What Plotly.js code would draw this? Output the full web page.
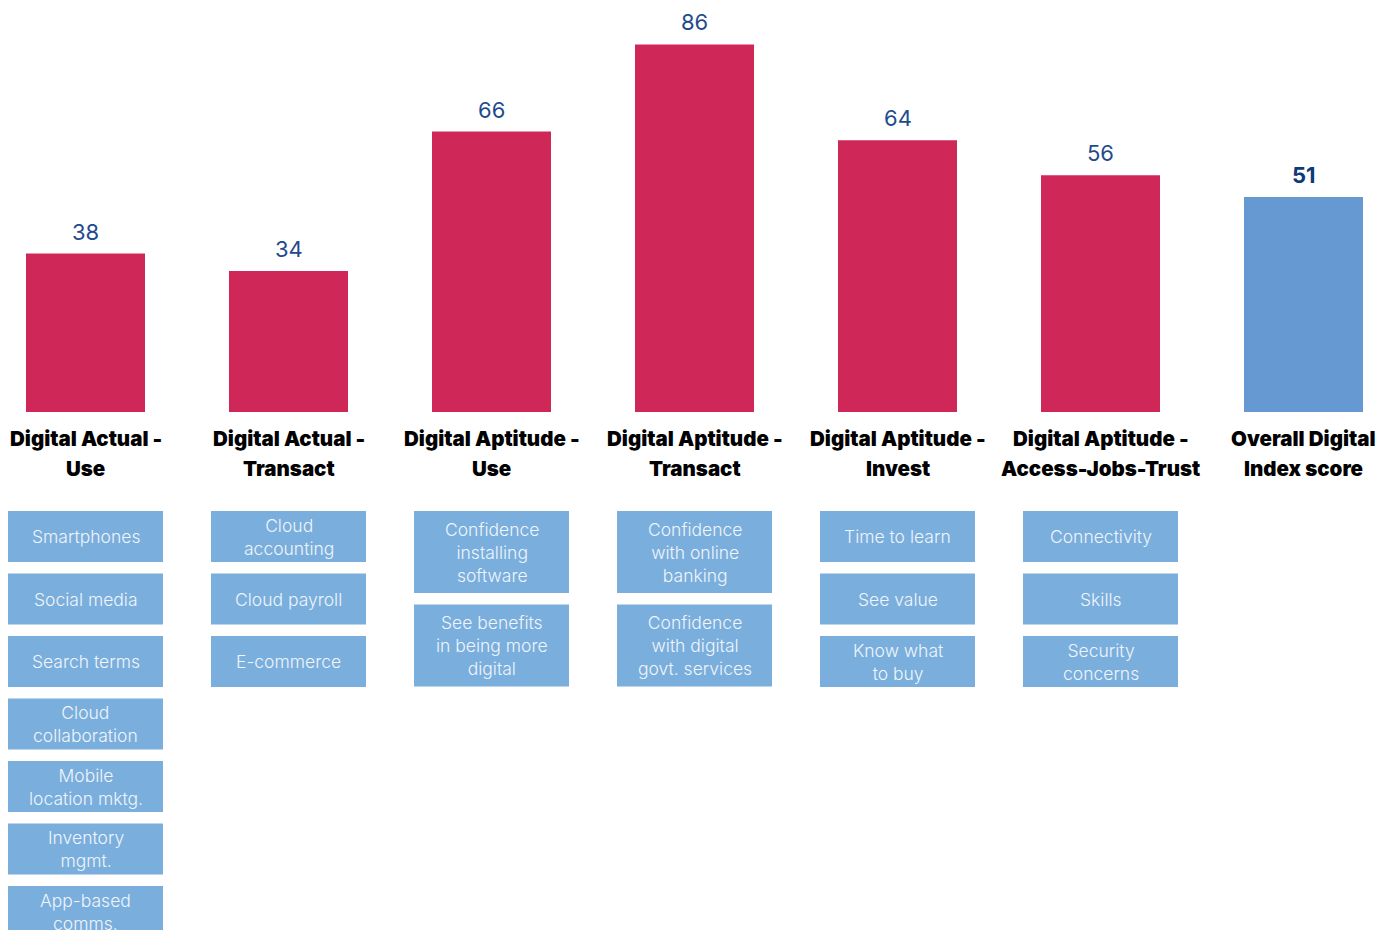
<!DOCTYPE html>
<html><head><meta charset="utf-8">
<script src="https://cdn.plot.ly/plotly-3.0.1.min.js"></script>
<style>html,body{margin:0;padding:0;background:#fff}#chart{width:1394px;height:930px}</style>
</head><body><div id="chart"></div>
<script>
// ---- data ----
const categories = [
  'Digital Actual -<br>Use',
  'Digital Actual -<br>Transact',
  'Digital Aptitude -<br>Use',
  'Digital Aptitude -<br>Transact',
  'Digital Aptitude -<br>Invest',
  'Digital Aptitude -<br>Access-Jobs-Trust',
  'Overall Digital<br>Index score'
];
const scores = [38, 34, 66, 86, 64, 56, 51];
const subItems = [
  ['Smartphones', 'Social media', 'Search terms', 'Cloud<br>collaboration', 'Mobile<br>location mktg.', 'Inventory<br>mgmt.', 'App-based<br>comms.'],
  ['Cloud<br>accounting', 'Cloud payroll', 'E-commerce'],
  ['Confidence<br>installing<br>software', 'See benefits<br>in being more<br>digital'],
  ['Confidence<br>with online<br>banking', 'Confidence<br>with digital<br>govt. services'],
  ['Time to learn', 'See value', 'Know what<br>to buy'],
  ['Connectivity', 'Skills', 'Security<br>concerns'],
  []
];
const overallIndex = 6;

// ---- styles ----
const W = 1394, H = 930;
const margin = {l: 0, r: 0, t: 0, b: 518};
const plotH = H - margin.t - margin.b;
const pxPerCat = 203;
const firstCenter = 85.5;
const xRange = [-firstCenter / pxPerCat, (W - firstCenter) / pxPerCat];
const pxPerUnit = 4.356;
const zeroPx = 419.1;
const yRange = [(zeroPx - plotH) / pxPerUnit, zeroPx / pxPerUnit];
const red = '#cf2858', blue = '#6699d1', boxColor = '#7aaedc';
const valueColor = '#1f4b8c', valueBoldColor = '#0f3a78';
const fontFamily = 'Inter, "Noto Sans", Arial, sans-serif';

const barColors = categories.map((c, i) => i === overallIndex ? blue : red);

const annotations = [];
const shapes = [];
const toPaper = py => (H - margin.b - py) / plotH;

scores.forEach((v, i) => {
  const bold = i === overallIndex;
  annotations.push({
    x: i, y: v, xref: 'x', yref: 'y',
    text: bold ? '<b>' + v + '</b>' : String(v),
    showarrow: false, xanchor: 'center', yanchor: 'bottom', yshift: 7,
    font: {family: fontFamily, size: 22, color: bold ? valueBoldColor : valueColor}
  });
});

// category labels (two lines each)
const labelLineY = [438, 468];
categories.forEach((c, i) => {
  c.split('<br>').forEach((line, k) => {
    annotations.push({
      x: i, y: toPaper(labelLineY[k]), xref: 'x', yref: 'paper',
      text: line, showarrow: false, xanchor: 'center', yanchor: 'middle',
      font: {family: fontFamily, size: 20.5, color: '#000000', weight: 900}
    });
  });
});

const boxHalfW = 155 / 2 / pxPerCat;
const boxTop = 511, gap = 11.5;
subItems.forEach((items, i) => {
  let y = boxTop;
  items.forEach(t => {
    const lines = t.split('<br>').length;
    const h = lines >= 3 ? 82 : 51;
    shapes.push({
      type: 'rect', xref: 'x', yref: 'paper',
      x0: i - boxHalfW, x1: i + boxHalfW,
      y0: toPaper(y), y1: toPaper(y + h),
      fillcolor: boxColor, line: {width: 0}, layer: 'above'
    });
    annotations.push({
      x: i, y: toPaper(y + h / 2), xref: 'x', yref: 'paper',
      text: t, showarrow: false, xanchor: 'center', yanchor: 'middle',
      font: {family: fontFamily, size: 17.5, color: '#eff5fb', weight: 300}
    });
    y += h + gap;
  });
});

const trace = {
  type: 'bar',
  x: categories,
  y: scores,
  width: 119 / pxPerCat,
  marker: {color: barColors, line: {width: 0}},
  hoverinfo: 'y'
};

const layout = {
  width: W, height: H,
  margin: margin,
  paper_bgcolor: '#ffffff', plot_bgcolor: '#ffffff',
  showlegend: false,
  font: {family: fontFamily},
  xaxis: {
    type: 'category', range: xRange, showgrid: false, zeroline: false, showline: false,
    ticks: '', showticklabels: false, automargin: false
  },
  yaxis: {visible: false, range: yRange, fixedrange: true},
  shapes: shapes,
  annotations: annotations
};

Plotly.newPlot('chart', [trace], layout, {displayModeBar: false, staticPlot: true});
</script>
</body></html>
